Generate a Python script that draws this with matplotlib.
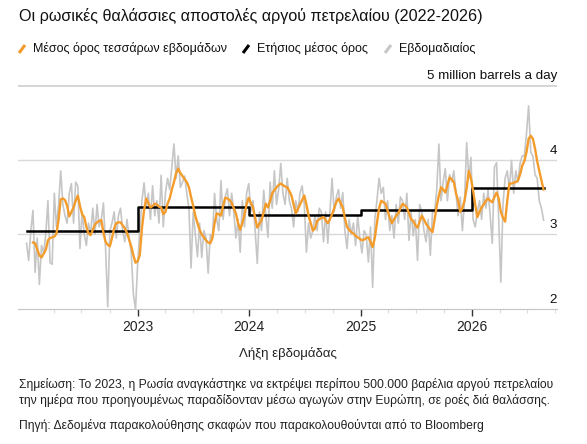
import numpy as np
import pandas as pd
import matplotlib
matplotlib.use("Agg")
import matplotlib.pyplot as plt
import matplotlib.dates as mdates
import matplotlib.transforms as mtransforms
from matplotlib.lines import Line2D

plt.rcParams['font.family'] = ['Liberation Sans', 'DejaVu Sans']

# weekly seaborne crude shipments, million barrels a day
weeks = pd.date_range('2022-01-02', periods=243, freq='7D')
weekly = [
    2.88, 2.65, 3.05, 3.32, 2.49, 2.95, 2.33, 2.85, 2.75, 3.00,
    3.45, 2.62, 2.60, 3.55, 3.10, 3.40, 3.85, 3.40, 3.25, 3.15,
    3.55, 3.68, 3.15, 3.70, 3.65, 2.81, 3.30, 3.00, 2.85, 3.15,
    3.00, 3.35, 3.00, 3.40, 3.10, 3.20, 3.42, 2.80, 2.03, 3.05,
    3.15, 3.30, 2.95, 3.25, 3.35, 3.05, 2.90, 3.20, 2.95, 2.75,
    2.20, 1.99, 2.60, 3.05, 3.45, 3.69, 3.35, 3.55, 3.20, 3.65,
    3.25, 3.45, 3.15, 3.79, 3.10, 3.55, 3.75, 3.60, 3.90, 4.21,
    3.75, 4.05, 3.63, 3.70, 3.78, 3.55, 3.35, 2.55, 3.30, 3.00,
    2.70, 3.15, 2.69, 3.05, 2.95, 2.48, 3.00, 2.95, 3.55, 3.20,
    3.05, 3.72, 3.20, 3.50, 3.61, 3.25, 3.55, 3.30, 2.95, 3.20,
    2.76, 3.45, 3.10, 3.55, 3.68, 3.30, 3.45, 3.05, 2.61, 3.30,
    3.05, 3.59, 3.25, 2.96, 3.70, 3.35, 3.85, 3.40, 3.60, 3.95,
    3.55, 3.40, 3.75, 3.45, 3.35, 3.10, 3.45, 3.30, 3.55, 3.65,
    3.40, 2.76, 3.15, 2.95, 3.05, 3.25, 3.05, 3.35, 3.30, 2.90,
    3.30, 2.88, 3.30, 3.75, 3.30, 3.50, 3.60, 3.35, 3.56, 3.05,
    2.81, 3.20, 3.00, 3.15, 2.85, 3.25, 2.95, 2.75, 3.05, 2.99,
    2.63, 3.10, 2.29, 3.20, 3.45, 3.75, 3.55, 3.63, 3.20, 3.45,
    3.05, 3.25, 2.95, 3.40, 3.15, 3.50, 3.45, 3.20, 3.55, 2.92,
    3.30, 2.98, 3.20, 2.65, 3.40, 3.30, 3.05, 2.90, 3.20, 2.72,
    3.30, 3.30, 3.60, 4.21, 3.45, 3.70, 3.88, 3.45, 3.80, 3.70,
    3.85, 3.55, 3.25, 3.50, 3.05, 3.45, 4.23, 3.75, 4.03, 3.20,
    3.10, 3.30, 3.45, 3.20, 3.55, 3.35, 3.60, 3.25, 2.88, 3.90,
    3.96, 3.20, 2.36, 3.40, 3.75, 3.85, 3.60, 3.99, 3.55, 3.85,
    3.70, 3.95, 4.05, 4.05, 4.35, 4.72, 4.10, 4.05, 3.80, 3.75,
    3.45, 3.35, 3.19,
]
four_week = [
    np.nan, np.nan, np.nan, 2.89, 2.88, 2.80, 2.72, 2.69, 2.74, 2.79,
    2.92, 2.95, 2.96, 2.97, 3.01, 3.20, 3.47, 3.48, 3.46, 3.38,
    3.24, 3.30, 3.36, 3.45, 3.52, 3.38, 3.27, 3.23, 3.10, 3.01,
    2.99, 3.06, 3.13, 3.16, 3.18, 3.19, 3.02, 2.90, 2.86, 2.84,
    2.95, 3.08, 3.15, 3.16, 3.16, 3.12, 3.08, 3.02, 2.93, 2.84,
    2.72, 2.62, 2.64, 2.72, 3.08, 3.32, 3.48, 3.42, 3.36, 3.38,
    3.41, 3.40, 3.37, 3.36, 3.27, 3.30, 3.41, 3.48, 3.60, 3.70,
    3.82, 3.88, 3.82, 3.78, 3.74, 3.70, 3.63, 3.50, 3.38, 3.25,
    3.15, 3.06, 3.00, 2.96, 2.92, 2.89, 2.88, 2.95, 3.15, 3.28,
    3.27, 3.25, 3.38, 3.49, 3.48, 3.46, 3.42, 3.35, 3.28, 3.15,
    3.06, 3.15, 3.26, 3.40, 3.49, 3.42, 3.36, 3.22, 3.09, 3.14,
    3.19, 3.30, 3.41, 3.36, 3.45, 3.55, 3.59, 3.63, 3.66, 3.68,
    3.66, 3.64, 3.63, 3.58, 3.52, 3.40, 3.28, 3.34, 3.40, 3.46,
    3.52, 3.40, 3.25, 3.15, 3.05, 3.08, 3.18, 3.20, 3.22, 3.23,
    3.19, 3.15, 3.20, 3.27, 3.35, 3.43, 3.48, 3.42, 3.36, 3.22,
    3.10, 3.06, 3.03, 3.01, 2.98, 2.96, 2.94, 2.92, 2.93, 2.95,
    2.96, 2.90, 2.83, 2.95, 3.15, 3.35, 3.45, 3.43, 3.41, 3.32,
    3.22, 3.15, 3.20, 3.25, 3.28, 3.35, 3.41, 3.39, 3.36, 3.28,
    3.20, 3.18, 3.12, 3.09, 3.17, 3.25, 3.20, 3.14, 3.10, 3.06,
    3.03, 3.20, 3.38, 3.52, 3.63, 3.60, 3.56, 3.66, 3.76, 3.74,
    3.70, 3.55, 3.45, 3.30, 3.35, 3.45, 3.62, 3.85, 3.75, 3.59,
    3.40, 3.23, 3.30, 3.36, 3.40, 3.45, 3.48, 3.45, 3.43, 3.50,
    3.56, 3.48, 3.30, 3.22, 3.17, 3.45, 3.68, 3.68, 3.69, 3.70,
    3.72, 3.80, 3.92, 3.98, 4.10, 4.28, 4.32, 4.28, 4.15, 3.98,
    3.85, 3.72, 3.60,
]
year_edges = pd.to_datetime(['2022-01-02', '2023-01-01', '2024-01-01',
                             '2025-01-01', '2026-01-01', '2026-08-23'])
year_avg = [3.04, 3.36, 3.26, 3.33, 3.62, 3.62]

year_ticks = pd.to_datetime(['2023-01-01', '2024-01-01', '2025-01-01', '2026-01-01'])
y_labels = {5: '5 million barrels a day', 4: '4', 3: '3', 2: '2'}

ORANGE = '#f39c2b'
GRAY = '#c6c6c6'

W, H = 587, 444
fig = plt.figure(figsize=(W / 100, H / 100), dpi=100)
ax = fig.add_axes([18 / W, 1 - 309 / H, (557 - 18) / W, (309 - 85) / H])

for v in (3, 4):
    ax.axhline(v, color='#d9d9d9', lw=1, zorder=0)
ax.axhline(5, color='#d4d4d4', lw=2, zorder=0)

ax.plot(weeks, weekly, color=GRAY, lw=1.2, zorder=1)
ax.plot(year_edges, year_avg, color='black', lw=1.8, drawstyle='steps-post', zorder=2)
ax.plot(weeks, four_week, color=ORANGE, lw=1.7, zorder=3)

ax.set_ylim(2, 5)
ax.set_xlim(pd.Timestamp('2021-12-05'), pd.Timestamp('2026-10-06'))
ax.set_yticks([])
for s in ('left', 'right', 'top'):
    ax.spines[s].set_visible(False)
ax.spines['bottom'].set_color('#c4c4c4')

ax.set_xticks(year_ticks)
ax.xaxis.set_major_formatter(mdates.DateFormatter('%Y'))
ax.xaxis.set_minor_locator(mdates.MonthLocator(bymonth=(4, 7, 10)))
ax.tick_params(axis='x', which='major', length=5, width=1, color='#333333',
               labelsize=10, labelcolor='#222222', pad=3)
ax.tick_params(axis='x', which='minor', length=3, width=0.8, color='#dddddd')

lab_tr = mtransforms.offset_copy(ax.get_yaxis_transform(), fig=fig, x=0, y=6, units='dots')
for v, t in y_labels.items():
    ax.text(1.0, v, t, transform=lab_tr, ha='right', va='baseline',
            fontsize=9.6, color='#111111')


def fx(x):
    return x / W


def fy(y):
    return 1 - y / H


fig.text(fx(19), fy(21), 'Οι ρωσικές θαλάσσιες αποστολές αργού πετρελαίου (2022-2026)',
         fontsize=11.6, color='#111111', va='baseline')

legend_items = [
    (19, 'Μέσος όρος τεσσάρων εβδομάδων', ORANGE),
    (243, 'Ετήσιος μέσος όρος', 'black'),
    (385, 'Εβδομαδιαίος', GRAY),
]
for x0, label, c in legend_items:
    fig.add_artist(Line2D([fx(x0), fx(x0 + 6)], [fy(53), fy(45)], color=c, lw=2.2,
                          solid_capstyle='butt', transform=fig.transFigure))
    fig.text(fx(x0 + 14), fy(52), label, fontsize=9.0, color='#111111', va='baseline')

fig.text(fx(288), fy(357), 'Λήξη εβδομάδας', fontsize=9.5, color='#222222',
         ha='center', va='baseline')
fig.text(fx(19), fy(388),
         'Σημείωση: Το 2023, η Ρωσία αναγκάστηκε να εκτρέψει περίπου 500.000 βαρέλια αργού πετρελαίου',
         fontsize=8.7, color='#222222', va='baseline')
fig.text(fx(19), fy(404),
         'την ημέρα που προηγουμένως παραδίδονταν μέσω αγωγών στην Ευρώπη, σε ροές διά θαλάσσης.',
         fontsize=8.7, color='#222222', va='baseline')
fig.text(fx(19), fy(429),
         'Πηγή: Δεδομένα παρακολούθησης σκαφών που παρακολουθούνται από το Bloomberg',
         fontsize=8.7, color='#222222', va='baseline')

fig.savefig('out.png', dpi=100)
